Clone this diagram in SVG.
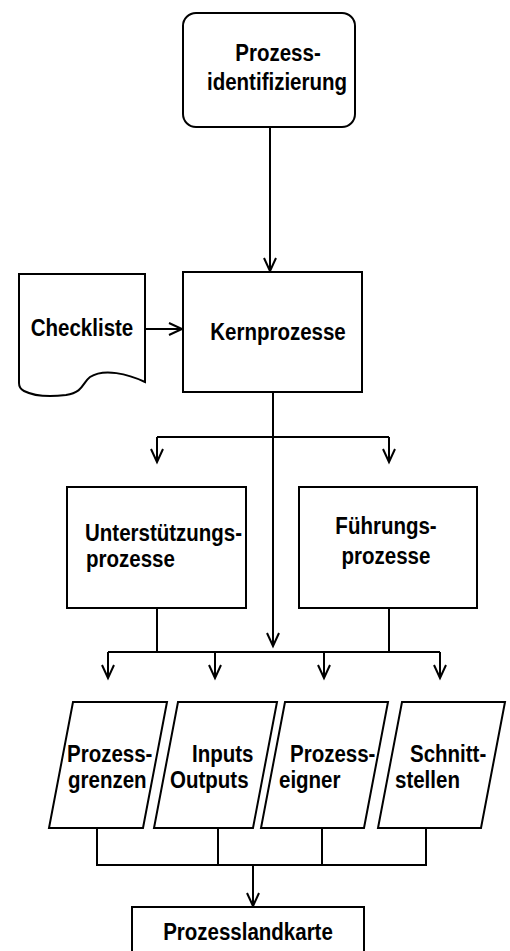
<svg xmlns="http://www.w3.org/2000/svg" width="510" height="951" viewBox="0 0 510 951">
  <style>
    .box { fill: #ffffff; stroke: #000000; stroke-width: 2; }
    .line { fill: none; stroke: #000000; stroke-width: 2; }
    .lbl { font-family: "Liberation Sans", Arial, sans-serif; font-weight: bold; font-size: 20.5px; fill: #000000; }
    .mid { text-anchor: middle; }
  </style>
  <defs>
    <marker id="arrow" markerUnits="userSpaceOnUse" markerWidth="16" markerHeight="16" viewBox="-8 -14 16 16" refX="0" refY="0" orient="auto-start-reverse" overflow="visible">
      <path d="M-13,-6 L0,0 L-13,6" fill="none" stroke="#000000" stroke-width="2"/>
    </marker>
  </defs>
  <rect width="510" height="951" fill="#ffffff"/>

  <!-- connectors -->
  <g id="connectors">
    <path class="line" d="M270,127 V271" marker-end="url(#arrow)"/>
    <path class="line" d="M145,329 H182" marker-end="url(#arrow)"/>
    <path class="line" d="M273,392 V646" marker-end="url(#arrow)"/>
    <path class="line" d="M157,437 H389"/>
    <path class="line" d="M157,437 V462" marker-end="url(#arrow)"/>
    <path class="line" d="M389,437 V462" marker-end="url(#arrow)"/>
    <path class="line" d="M157,608 V652"/>
    <path class="line" d="M389,608 V652"/>
    <path class="line" d="M108,652 H440"/>
    <path class="line" d="M108,652 V678" marker-end="url(#arrow)"/>
    <path class="line" d="M215,652 V678" marker-end="url(#arrow)"/>
    <path class="line" d="M324,652 V678" marker-end="url(#arrow)"/>
    <path class="line" d="M440,652 V678" marker-end="url(#arrow)"/>
    <path class="line" d="M97,828 V865 H426 V828"/>
    <path class="line" d="M218,828 V865"/>
    <path class="line" d="M322,828 V865"/>
    <path class="line" d="M253,865 V906" marker-end="url(#arrow)"/>
  </g>

  <!-- start node -->
  <g id="prozessidentifizierung">
    <rect class="box" x="183" y="13" width="172" height="114" rx="13" ry="13"/>
    <text class="lbl mid" transform="matrix(1 0 0 1.14 278 61)">Prozess-</text>
    <text class="lbl mid" transform="matrix(1 0 0 1.14 277 90)">identifizierung</text>
  </g>

  <!-- document node -->
  <g id="checkliste">
    <path class="box" d="M19,274 H145 V382 C128,374 104,368 90,377 C82,383 84,392 66,395 C50,397 34,396 24,391 C20,389 19,386 19,383 Z"/>
    <text class="lbl mid" transform="matrix(1 0 0 1.14 82 336)">Checkliste</text>
  </g>

  <g id="kernprozesse">
    <rect class="box" x="183" y="272" width="179" height="120"/>
    <text class="lbl mid" transform="matrix(1 0 0 1.14 278 340)">Kernprozesse</text>
  </g>

  <g id="unterstuetzungsprozesse">
    <rect class="box" x="67" y="487" width="179" height="121"/>
    <text class="lbl" transform="matrix(1 0 0 1.14 85 541)">Unterstützungs-</text>
    <text class="lbl" transform="matrix(1 0 0 1.14 86 567)">prozesse</text>
  </g>

  <g id="fuehrungsprozesse">
    <rect class="box" x="299" y="487" width="178" height="121"/>
    <text class="lbl mid" transform="matrix(1 0 0 1.14 386 534)">Führungs-</text>
    <text class="lbl mid" transform="matrix(1 0 0 1.14 386 564)">prozesse</text>
  </g>

  <!-- data nodes -->
  <g id="prozessgrenzen">
    <path class="box" d="M73,702 H167 L143,828 H49 Z"/>
    <text class="lbl" transform="matrix(1 0 0 1.14 67 762)">Prozess-</text>
    <text class="lbl" transform="matrix(1 0 0 1.14 68 788)">grenzen</text>
  </g>

  <g id="inputs-outputs">
    <path class="box" d="M178,702 H277 L253,828 H154 Z"/>
    <text class="lbl" transform="matrix(1 0 0 1.14 192 762)">Inputs</text>
    <text class="lbl" transform="matrix(1 0 0 1.14 170 788)">Outputs</text>
  </g>

  <g id="prozesseigner">
    <path class="box" d="M285,702 H388 L364,828 H261 Z"/>
    <text class="lbl" transform="matrix(1 0 0 1.14 290 762)">Prozess-</text>
    <text class="lbl" transform="matrix(1 0 0 1.14 279 788)">eigner</text>
  </g>

  <g id="schnittstellen">
    <path class="box" d="M402,702 H505 L481,828 H378 Z"/>
    <text class="lbl" transform="matrix(1 0 0 1.14 410 762)">Schnitt-</text>
    <text class="lbl" transform="matrix(1 0 0 1.14 395 788)">stellen</text>
  </g>

  <g id="prozesslandkarte">
    <rect class="box" x="132" y="907" width="232" height="60"/>
    <text class="lbl mid" transform="matrix(1 0 0 1.14 248 940)">Prozesslandkarte</text>
  </g>
</svg>
